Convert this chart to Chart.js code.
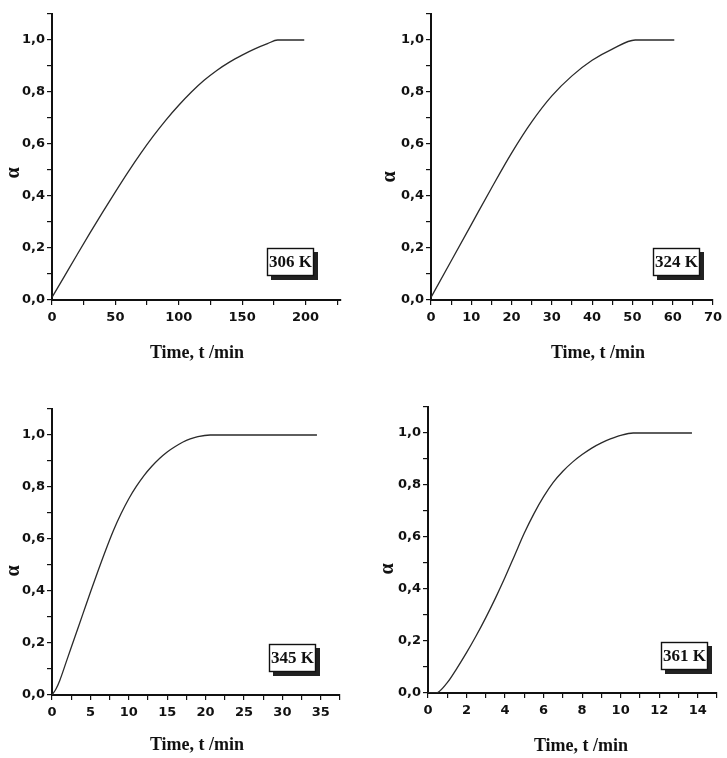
<!DOCTYPE html>
<html>
<head>
<meta charset="utf-8">
<script src="https://cdn.jsdelivr.net/npm/chart.js@4.4.1/dist/chart.umd.min.js"></script>
<style>
  html, body { margin: 0; padding: 0; background: #fff; }
  #wrap { position: relative; width: 727px; height: 758px; overflow: hidden; }
  #wrap canvas { position: absolute; }
</style>
</head>
<body>
<div id="wrap">
  <canvas id="c306" width="364" height="379" style="left:0;top:0"></canvas>
  <canvas id="c324" width="363" height="379" style="left:364px;top:0"></canvas>
  <canvas id="c345" width="364" height="379" style="left:0;top:379px"></canvas>
  <canvas id="c361" width="363" height="379" style="left:364px;top:379px"></canvas>
</div>
<script>
// conversion curves, alpha vs time (min)
const time306 = [0, 10, 20, 30, 40, 50, 60, 70, 80, 90, 100, 110, 120, 130, 140, 150, 160, 170, 178, 190, 199];
const alpha306 = [0.01, 0.093, 0.176, 0.258, 0.338, 0.416, 0.492, 0.564, 0.631, 0.693, 0.749, 0.8, 0.845, 0.883, 0.915, 0.942, 0.966, 0.986, 1.0, 1.0, 1.0];

const time324 = [0, 5, 10, 15, 20, 25, 30, 35, 40, 45, 50.7, 55, 60.4];
const alpha324 = [0.01, 0.15, 0.29, 0.43, 0.565, 0.685, 0.785, 0.862, 0.922, 0.965, 1.0, 1.0, 1.0];

const time345 = [0, 0.5, 1, 2, 3, 4, 5, 6, 7, 8, 9, 10, 11, 12, 13, 14, 15, 16, 17, 18, 19, 20.6, 25, 30, 34.5];
const alpha345 = [0, 0.022, 0.055, 0.14, 0.225, 0.31, 0.395, 0.478, 0.558, 0.633, 0.698, 0.755, 0.803, 0.845, 0.88, 0.91, 0.935, 0.955, 0.972, 0.985, 0.994, 1.0, 1.0, 1.0, 1.0];

const time361 = [0, 0.4, 1, 1.5, 2, 2.5, 3, 3.5, 4, 4.5, 5, 5.5, 6, 6.5, 7, 7.5, 8, 8.5, 9, 9.5, 10, 10.65, 12, 13.7];
const alpha361 = [0, 0, 0.04, 0.095, 0.155, 0.22, 0.29, 0.365, 0.445, 0.53, 0.615, 0.69, 0.755, 0.81, 0.853, 0.888, 0.917, 0.942, 0.962, 0.978, 0.991, 1.0, 1.0, 1.0];

const tempLabels = ['306 K', '324 K', '345 K', '361 K'];
const xTitle = 'Time, t /min';
const yTitle = 'α';

// per panel: axis range/steps and where things sit on its canvas
const panels = [
  { id: 'c306', time: time306, alpha: alpha306, xMax: 228, xStep: 25, xLabelEvery: 50,
    area: { l: 52, t: 14, r: 341, b: 300 }, box: [267, 248], xt: [197, 353], yt: [14, 173] },
  { id: 'c324', time: time324, alpha: alpha324, xMax: 70, xStep: 5, xLabelEvery: 10,
    area: { l: 67, t: 14, r: 354, b: 300 }, box: [289, 248], xt: [234, 353], yt: [26, 177] },
  { id: 'c345', time: time345, alpha: alpha345, xMax: 37.5, xStep: 2.5, xLabelEvery: 5,
    area: { l: 52, t: 30, r: 340, b: 316 }, box: [269, 265], xt: [197, 366], yt: [14, 192] },
  { id: 'c361', time: time361, alpha: alpha361, xMax: 15, xStep: 1, xLabelEvery: 2,
    area: { l: 64, t: 28, r: 353, b: 314 }, box: [297, 263], xt: [217, 367], yt: [24, 190] }
];

const tickFont = { family: '"DejaVu Sans", Arial, sans-serif', size: 13, weight: 'bold' };

// axis titles and the temperature box
const textPlugin = {
  id: 'panelText',
  afterDraw(chart, args, opts) {
    const ctx = chart.ctx;
    ctx.save();
    ctx.fillStyle = '#111';
    ctx.textAlign = 'center';
    ctx.textBaseline = 'middle';
    ctx.font = 'bold 18px "Liberation Serif", "Times New Roman", serif';
    ctx.fillText(xTitle, opts.xt[0], opts.xt[1]);

    ctx.save();
    ctx.translate(opts.yt[0], opts.yt[1]);
    ctx.rotate(-Math.PI / 2);
    ctx.font = 'bold 20px "Liberation Serif", "Times New Roman", serif';
    ctx.fillText(yTitle, 0, 0);
    ctx.restore();

    const [bx, by] = opts.box;
    const bw = 47, bh = 28;
    ctx.fillStyle = '#222';
    ctx.fillRect(bx + 4, by + 4, bw, bh);
    ctx.fillStyle = '#fff';
    ctx.fillRect(bx, by, bw, bh);
    ctx.strokeStyle = '#111';
    ctx.lineWidth = 1.4;
    ctx.strokeRect(bx + 0.5, by + 0.5, bw - 1, bh - 1);
    ctx.fillStyle = '#111';
    ctx.font = 'bold 17px "Liberation Serif", "Times New Roman", serif';
    ctx.fillText(opts.label, bx + bw / 2, by + bh / 2 + 1);
    ctx.restore();
  }
};

panels.forEach((p, i) => {
  const canvas = document.getElementById(p.id);
  const W = canvas.width, H = canvas.height;
  const points = p.time.map((t, k) => ({ x: t, y: p.alpha[k] }));
  const perLabel = Math.round(p.xLabelEvery / p.xStep);

  new Chart(canvas, {
    type: 'line',
    data: {
      datasets: [{
        data: points,
        borderColor: '#2a2a2a',
        borderWidth: 1.3,
        pointRadius: 0,
        fill: false,
        cubicInterpolationMode: 'monotone'
      }]
    },
    options: {
      responsive: false,
      animation: false,
      events: [],
      layout: { padding: { left: 0, top: p.area.t, right: W - p.area.r, bottom: 0 } },
      plugins: {
        legend: { display: false },
        tooltip: { enabled: false },
        panelText: { label: tempLabels[i], box: p.box, xt: p.xt, yt: p.yt }
      },
      scales: {
        x: {
          type: 'linear',
          min: 0,
          max: p.xMax,
          afterFit: (scale) => { scale.height = H - p.area.b; },
          grid: { drawOnChartArea: false, drawTicks: true, tickLength: 5, color: '#111', lineWidth: 1.2 },
          border: { color: '#111', width: 2 },
          ticks: {
            stepSize: p.xStep,
            includeBounds: false,
            autoSkip: false,
            maxRotation: 0,
            padding: 5,
            color: '#111',
            font: tickFont,
            callback: (v) => (Math.round(v / p.xStep) % perLabel === 0 ? String(v) : '')
          }
        },
        y: {
          min: 0,
          max: 1.1,
          afterFit: (scale) => { scale.width = p.area.l; },
          grid: { drawOnChartArea: false, drawTicks: true, tickLength: 5, color: '#111', lineWidth: 1.2 },
          border: { color: '#111', width: 2 },
          ticks: {
            stepSize: 0.1,
            includeBounds: false,
            autoSkip: false,
            padding: 2,
            color: '#111',
            font: tickFont,
            callback: (v) => (Math.round(v * 10) % 2 === 0 ? v.toFixed(1).replace('.', ',') : '')
          }
        }
      }
    },
    plugins: [textPlugin]
  });
});
</script>
</body>
</html>
